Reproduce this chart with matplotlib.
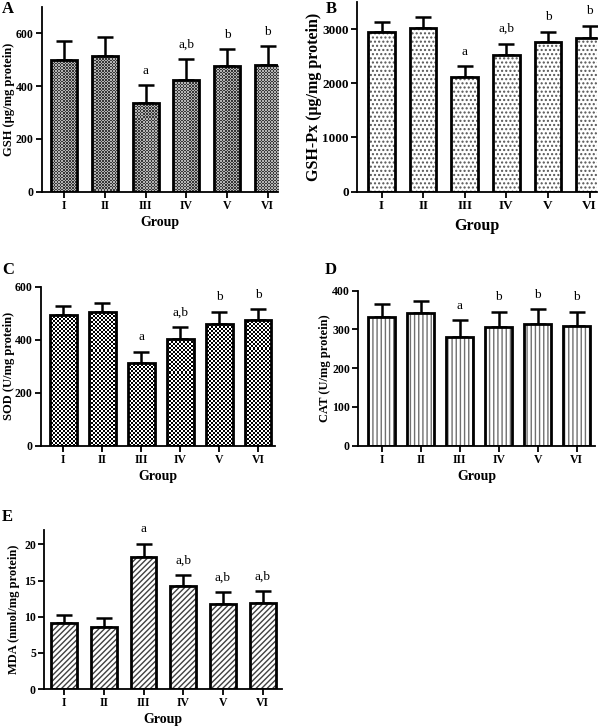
import matplotlib
matplotlib.use("Agg")
import matplotlib.pyplot as plt
import numpy as np

plt.rcParams['font.family'] = ['Liberation Serif', 'DejaVu Serif']
plt.rcParams['hatch.linewidth'] = 1.0

groups = ["I", "II", "III", "IV", "V", "VI"]

gsh_mean = [499, 515, 335, 423, 476, 480]
gsh_err = [74, 71, 69, 80, 65, 71]
gsh_sig = ["", "", "a", "a,b", "b", "b"]

gshpx_mean = [2938, 3012, 2122, 2524, 2765, 2845]
gshpx_err = [198, 204, 198, 210, 186, 217]
gshpx_sig = ["", "", "a", "a,b", "b", "b"]

sod_mean = [493, 503, 313, 401, 459, 473]
sod_err = [34, 34, 42, 48, 47, 41]
sod_sig = ["", "", "a", "a,b", "b", "b"]

cat_mean = [333, 342, 280, 307, 313, 310]
cat_err = [33, 32, 44, 39, 40, 36]
cat_sig = ["", "", "a", "b", "b", "b"]

mda_mean = [9.08, 8.62, 18.2, 14.24, 11.75, 11.94]
mda_err = [1.15, 1.15, 1.9, 1.52, 1.61, 1.56]
mda_sig = ["", "", "a", "a,b", "a,b", "a,b"]

W, H = 600, 727
fig = plt.figure(figsize=(W / 100, H / 100), dpi=100)

ax_left_px = {}
ax_w_px = {}
ax_h_px = {}


def make(left, right, bottom, top):
    ax = fig.add_axes([left / W, 1 - bottom / H, (right - left) / W, (bottom - top) / H])
    ax_left_px[ax] = left
    ax_w_px[ax] = right - left
    ax_h_px[ax] = bottom - top
    return ax


def checker_fill(ax, bars, cell_px, dark, light, xlim, ylim):
    nx = int(ax_w_px[ax] / cell_px) + 1
    ny = int(ax_h_px[ax] / cell_px) + 1
    ii, jj = np.indices((ny, nx))
    arr = ((ii + jj) % 2).astype(float)
    cmap = matplotlib.colors.ListedColormap([dark, light])
    x1 = xlim[0] + nx * cell_px / ax_w_px[ax] * (xlim[1] - xlim[0])
    y1 = ylim[0] + ny * cell_px / ax_h_px[ax] * (ylim[1] - ylim[0])
    for b in bars:
        im = ax.imshow(arr, extent=(xlim[0], x1, ylim[0], y1),
                       origin='lower', cmap=cmap, interpolation='nearest',
                       aspect='auto', zorder=2, vmin=0, vmax=1)
        im.set_clip_path(b)


def panel(ax, mean, err, sig, fill, width, xlim, ylim, yticks, ylabel,
          letter, letter_xy, ylab_x, fs_lab, fs_tick, fs_group, group_pad):
    x = np.arange(len(groups))
    if fill[0] == 'hatch':
        ax.bar(x, mean, width=width, color='white', edgecolor=fill[2],
               linewidth=0, hatch=fill[1], zorder=2)
    else:
        hb = ax.bar(x, mean, width=width, color='white', linewidth=0, zorder=1.5)
        checker_fill(ax, hb, fill[1], fill[2], fill[3], xlim, ylim)
    ax.bar(x, mean, width=width, fill=False, edgecolor='black',
           linewidth=2.0, zorder=3)
    ax.errorbar(x, mean, yerr=[np.zeros(len(err)), err], fmt='none',
                ecolor='black', elinewidth=1.8, capsize=6, capthick=1.8, zorder=1)
    for xi, m, e, s in zip(x, mean, err, sig):
        if s:
            ax.annotate(s, (xi, m + e), xytext=(0, 6), textcoords='offset points',
                        ha='center', va='bottom', fontsize=9.5)
    ax.set_xlim(*xlim)
    ax.set_ylim(*ylim)
    ax.set_yticks(yticks)
    ax.set_xticks(x)
    ax.set_xticklabels(groups, fontweight='bold', fontsize=fs_tick)
    for t in ax.get_yticklabels():
        t.set_fontweight('bold')
        t.set_fontsize(fs_tick)
    ax.spines['top'].set_visible(False)
    ax.spines['right'].set_visible(False)
    ax.spines['left'].set_linewidth(1.3)
    ax.spines['bottom'].set_linewidth(1.3)
    ax.tick_params(width=1.3, length=4, pad=2)
    ax.set_ylabel(ylabel, fontweight='bold', fontsize=fs_lab)
    ax.yaxis.set_label_coords((ylab_x - ax_left_px[ax]) / ax_w_px[ax], 0.5)
    ax.set_xlabel("Group", fontweight='bold', fontsize=fs_group, labelpad=group_pad)
    fig.text(letter_xy[0] / W, 1 - letter_xy[1] / H, letter, fontweight='bold',
             fontsize=12, ha='left', va='center')


axA = make(41.7, 278, 191.7, 7)
panel(axA, gsh_mean, gsh_err, gsh_sig, ('checker', 1.5, '#383838', '#b4b4b4'), 0.64,
      (-0.55, 5.25), (0, 700), [0, 200, 400, 600], "GSH (μg/mg protein)", "A",
      (2, 9), 15.5, 9, 8.5, 10, 2.5)

axB = make(357, 597, 191.7, 2)
panel(axB, gshpx_mean, gshpx_err, gshpx_sig, ('hatch', '....', '#555555'), 0.64,
      (-0.59, 5.18), (0, 3500), [0, 1000, 2000, 3000], "GSH-Px (μg/mg protein)", "B",
      (326, 9), 322, 11.5, 9.5, 11.5, 4)

axC = make(40.7, 275, 445.7, 286.7)
panel(axC, sod_mean, sod_err, sod_sig, ('checker', 2.0, '#000000', '#ffffff'), 0.68,
      (-0.58, 5.43), (0, 600), [0, 200, 400, 600], "SOD (U/mg protein)", "C",
      (2, 270), 15, 9, 8.5, 10, 2.5)

axD = make(358.3, 595, 445.7, 290.7)
panel(axD, cat_mean, cat_err, cat_sig, ('hatch', '||||', '#707070'), 0.7,
      (-0.6, 5.47), (0, 400), [0, 100, 200, 300, 400], "CAT (U/mg protein)", "D",
      (325, 270), 331, 9, 8.5, 10, 2.5)

axE = make(44.3, 281.7, 689, 530)
panel(axE, mda_mean, mda_err, mda_sig, ('hatch', '//////', '#404040'), 0.65,
      (-0.5, 5.48), (0, 22), [0, 5, 10, 15, 20], "MDA (nmol/mg protein)", "E",
      (2, 517), 19.5, 9, 8.5, 10, 2.5)

fig.savefig("out.png", dpi=100)
